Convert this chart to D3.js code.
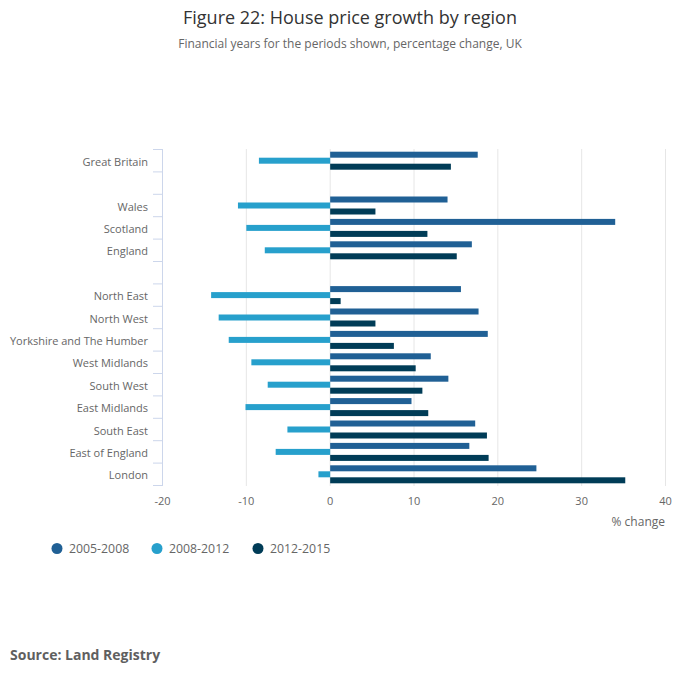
<!DOCTYPE html>
<html><head><meta charset="utf-8">
<script src="https://cdn.jsdelivr.net/npm/d3@7"></script>
<style>body{margin:0;background:#fff;font-family:"Open Sans",sans-serif;}</style>
</head><body><svg id="c" width="700" height="682"></svg>
<script>
const categories = ["Great Britain","","Wales","Scotland","England"," ","North East","North West","Yorkshire and The Humber","West Midlands","South West","East Midlands","South East","East of England","London"];
const seriesNames = ["2005-2008","2008-2012","2012-2015"];
const s2005_2008 = [17.6,null,14.0,34.0,16.9,null,15.6,17.7,18.8,12.0,14.1,9.7,17.3,16.6,24.6];
const s2008_2012 = [-8.5,null,-11.0,-10.0,-7.8,null,-14.2,-13.3,-12.1,-9.4,-7.45,-10.1,-5.1,-6.5,-1.4];
const s2012_2015 = [14.4,null,5.4,11.6,15.1,null,1.25,5.4,7.6,10.2,11.0,11.7,18.7,18.9,35.2];
const xTicks = [-20,-10,0,10,20,30,40];
const colors = ["#206095","#27a0cc","#003c57"];
const seriesVals = [s2005_2008,s2008_2012,s2012_2015];

const svg = d3.select("#c");
svg.append("text").attr("x",350).attr("y",24).attr("text-anchor","middle")
  .attr("font-size",18).attr("fill","#333").text("Figure 22: House price growth by region");
svg.append("text").attr("x",350).attr("y",48).attr("text-anchor","middle")
  .attr("font-size",12).attr("fill","#666").text("Financial years for the periods shown, percentage change, UK");

const x = d3.scaleLinear().domain([-20,40]).range([162.5,665.5]);
const y = d3.scaleBand().domain(categories).range([149.5,485.5]).padding(0);
// grid
svg.append("g").selectAll("line").data(xTicks).join("line")
  .attr("x1",d=>x(d)).attr("x2",d=>x(d)).attr("y1",149).attr("y2",486)
  .attr("stroke","#e6e6e6").attr("stroke-width",1);
// y axis line and ticks
svg.append("line").attr("x1",162.5).attr("x2",162.5).attr("y1",149).attr("y2",486).attr("stroke","#ccd6eb");
const bounds = categories.map(c=>y(c)).concat([y(categories[categories.length-1])+y.bandwidth()]);
svg.append("g").selectAll("line").data(bounds).join("line")
  .attr("x1",153).attr("x2",162.5).attr("y1",d=>d).attr("y2",d=>d).attr("stroke","#ccd6eb");
// labels
svg.append("g").selectAll("text").data(categories.filter(c=>c.trim()!=="")).join("text")
  .attr("x",148).attr("y",d=>y(d)+y.bandwidth()/2+5).attr("text-anchor","end")
  .attr("font-size",11).attr("fill","#666").text(d=>d);
// bars
const barH = 6;
seriesVals.forEach((vals,si)=>{
  svg.append("g").selectAll("rect").data(vals.map((v,i)=>({v,c:categories[i]})).filter(d=>d.v!==null)).join("rect")
    .attr("x",d=>x(Math.min(0,d.v))).attr("width",d=>Math.abs(x(d.v)-x(0)))
    .attr("y",d=>y(d.c)+y.bandwidth()/2-1.5*barH+si*barH).attr("height",barH)
    .attr("fill",colors[si]);
});
// x tick labels
svg.append("g").selectAll("text").data(xTicks).join("text")
  .attr("x",d=>x(d)).attr("y",505).attr("text-anchor","middle")
  .attr("font-size",11).attr("fill","#666").text(d=>d);
svg.append("text").attr("x",665).attr("y",526).attr("text-anchor","end")
  .attr("font-size",12).attr("fill","#666").text("% change");
// legend
const lx = [57,157,258];
seriesNames.forEach((n,i)=>{
  svg.append("circle").attr("cx",lx[i]).attr("cy",548.5).attr("r",5.5).attr("fill",colors[i]);
  svg.append("text").attr("x",lx[i]+12).attr("y",553).attr("font-size",12.3).attr("fill","#666").text(n);
});
svg.append("text").attr("x",10).attr("y",660).attr("font-size",14).attr("font-weight","bold")
  .attr("fill","#5f5f5f").text("Source: Land Registry");
</script></body></html>
